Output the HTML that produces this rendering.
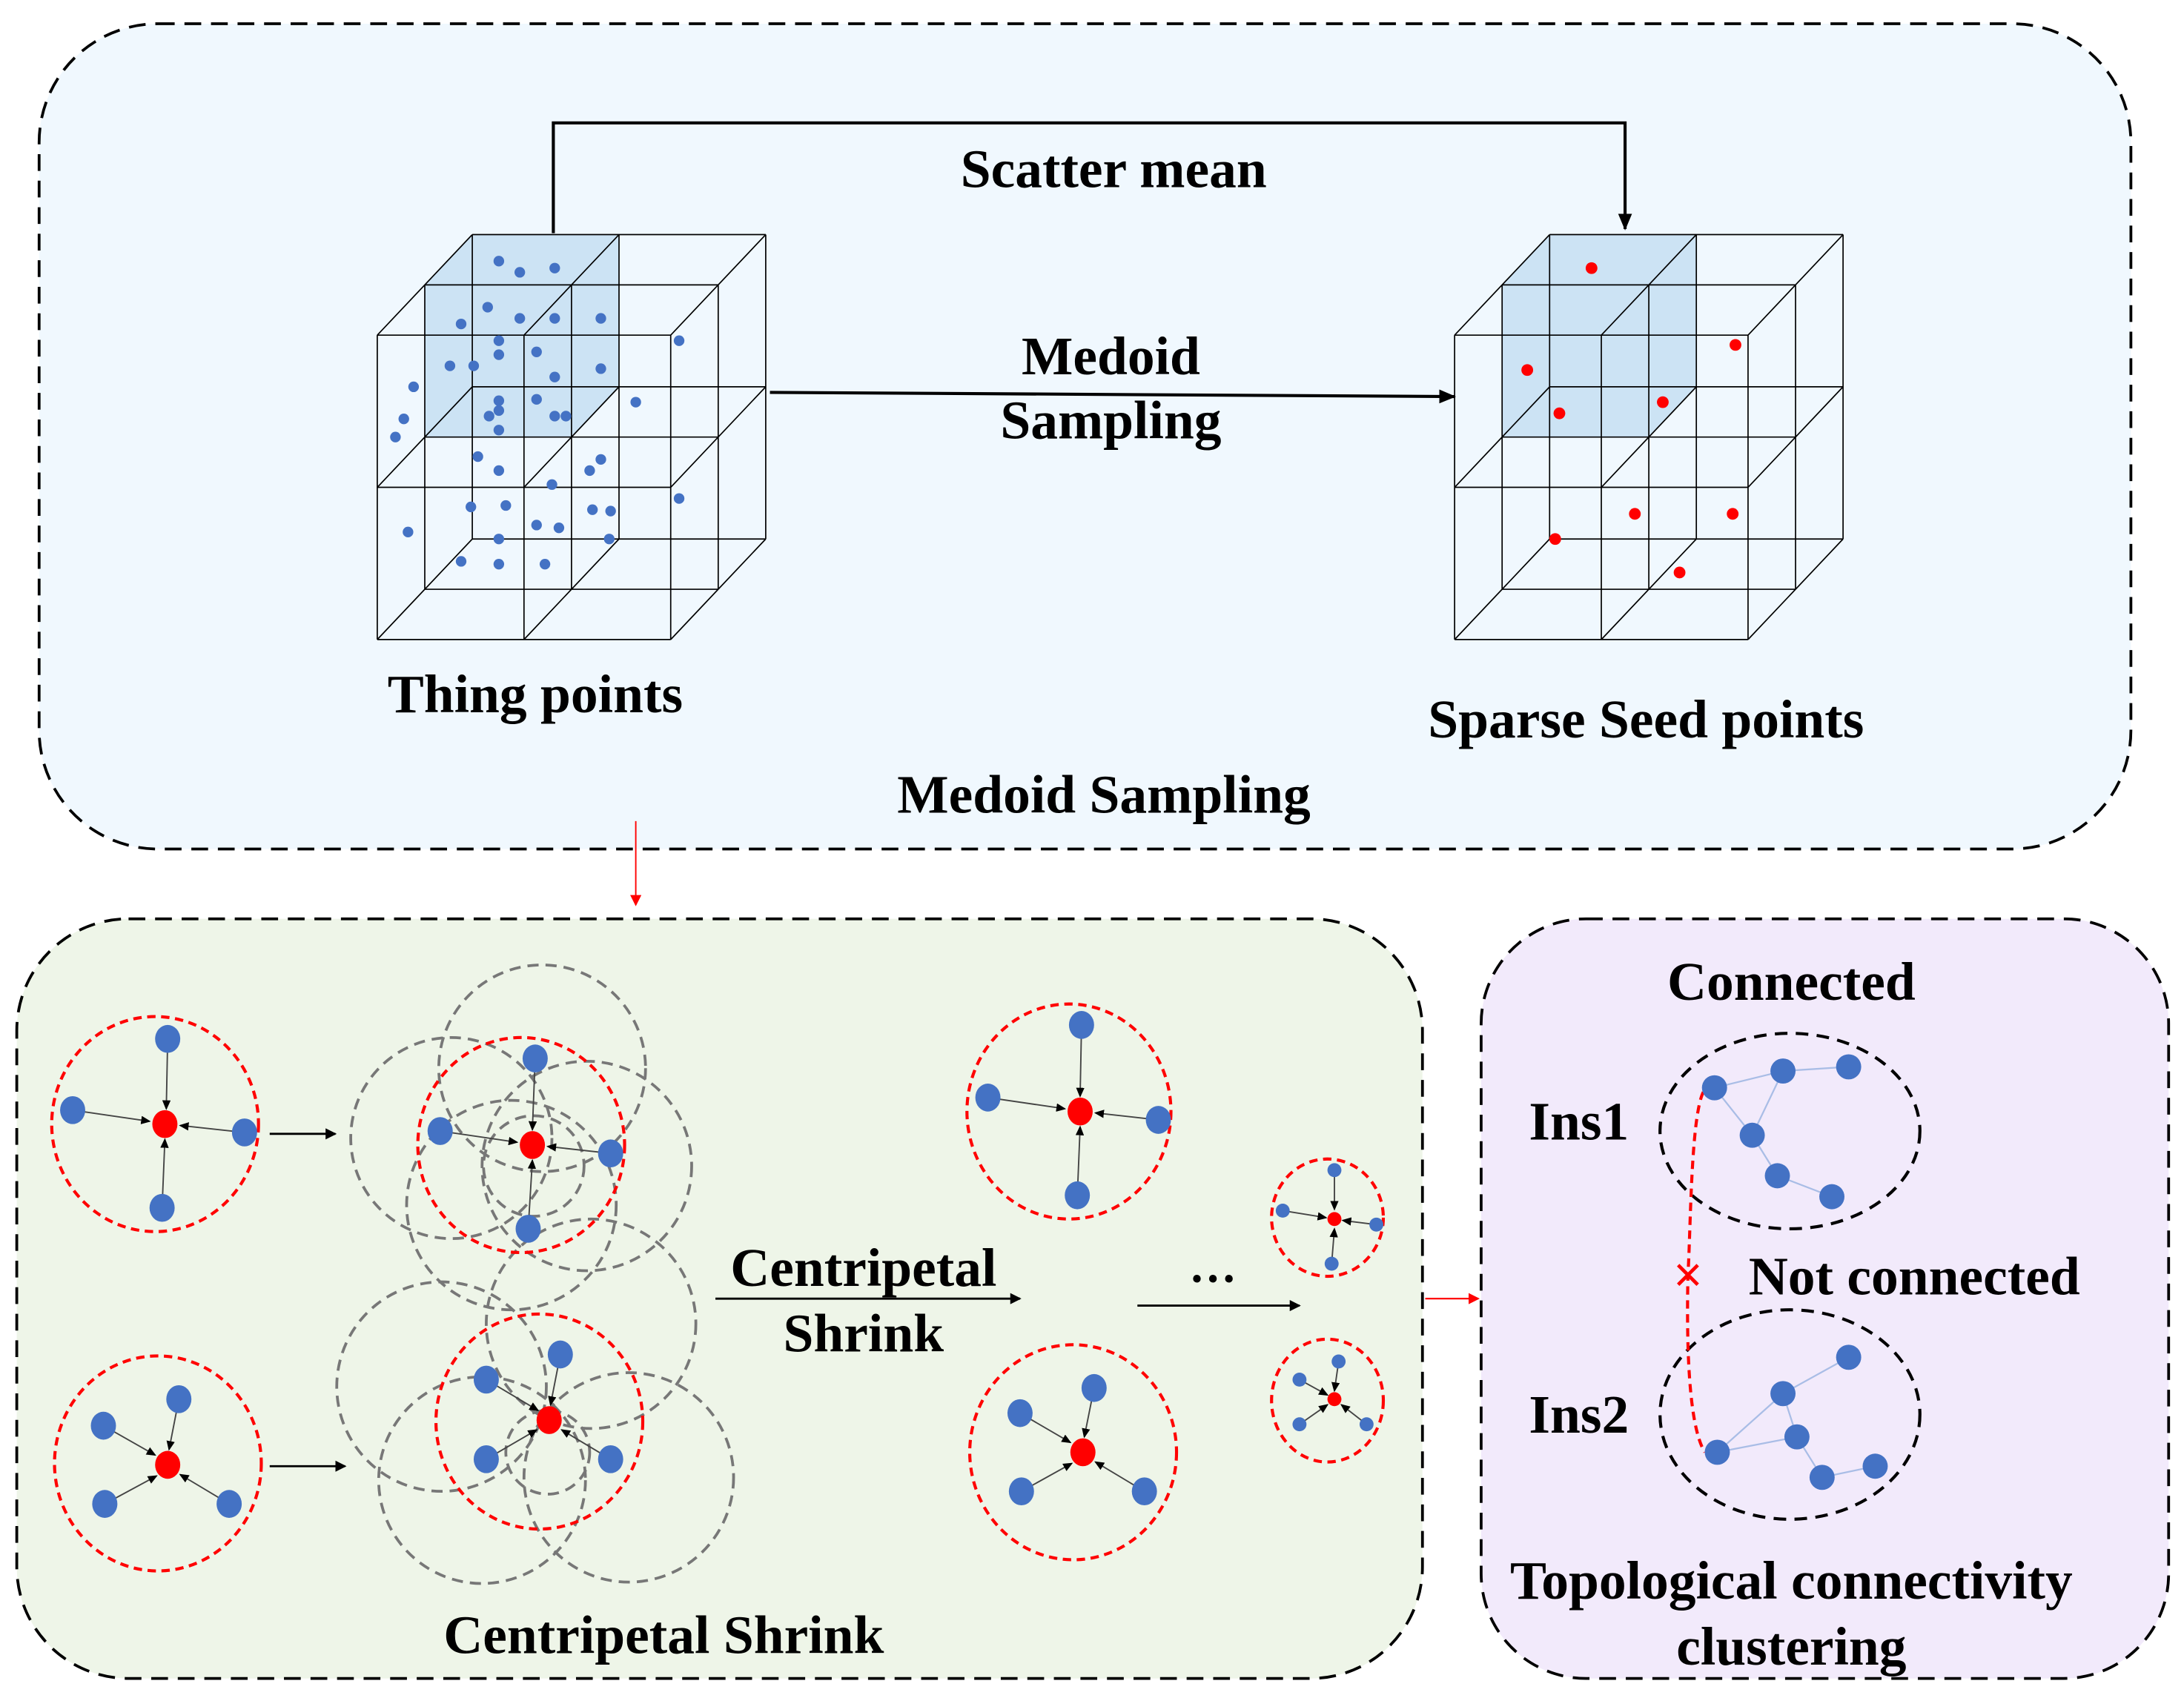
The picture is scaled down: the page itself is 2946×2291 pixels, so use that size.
<!DOCTYPE html>
<html><head><meta charset="utf-8"><style>
html,body{margin:0;padding:0;background:#fff;width:2946px;height:2291px;overflow:hidden}
svg{display:block}
text{font-family:"Liberation Serif",serif;font-weight:bold;fill:#000;text-anchor:middle}
</style></head><body>
<svg width="2946" height="2291" viewBox="0 0 1563 1216" preserveAspectRatio="none">
<defs>
<marker id="ab" markerWidth="8" markerHeight="8" refX="7" refY="4" orient="auto" markerUnits="userSpaceOnUse"><path d="M0,0 L8,4 L0,8 z" fill="#000"/></marker>
<marker id="as" markerWidth="7" markerHeight="6" refX="6" refY="3" orient="auto" markerUnits="userSpaceOnUse"><path d="M0,0 L7,3 L0,6 z" fill="#000"/></marker>
<marker id="ar" markerWidth="8" markerHeight="8" refX="7" refY="4" orient="auto" markerUnits="userSpaceOnUse"><path d="M0,0 L8,4 L0,8 z" fill="#f00"/></marker>
<marker id="big" markerWidth="12" markerHeight="10" refX="11" refY="5" orient="auto" markerUnits="userSpaceOnUse"><path d="M0,0 L12,5 L0,10 z" fill="#000"/></marker>
<g id="cube">
<polygon points="34,-36 68,-72 173,-72 173,37 139,73 34,73" fill="#a8cde9" fill-opacity="0.5"/>
<path fill="none" stroke="#000" stroke-width="0.9" d="M0 0H210M0 109H210M0 218H210M0 0V218M105 0V218M210 0V218
M34 -36H244M34 73H244M34 182H244M34 -36V182M139 -36V182M244 -36V182
M68 -72H278M68 37H278M68 146H278M68 -72V146M173 -72V146M278 -72V146
M0 0l68 -72M105 0l68 -72M210 0l68 -72M0 109l68 -72M105 109l68 -72M210 109l68 -72M0 218l68 -72M105 218l68 -72M210 218l68 -72"/>
</g>
</defs>

<rect x="28" y="17" width="1497" height="591" rx="85" fill="#f0f8fe" stroke="#000" stroke-width="2" stroke-dasharray="12,7"/>
<rect x="12" y="658" width="1006" height="544" rx="80" fill="#eef5e8" stroke="#000" stroke-width="2" stroke-dasharray="12,7"/>
<rect x="1060" y="658" width="492" height="544" rx="75" fill="#f2eafb" stroke="#000" stroke-width="2" stroke-dasharray="12,7"/>

<use href="#cube" transform="translate(270,240)"/>
<use href="#cube" transform="translate(1041,240)"/>

<g fill="#4472c4">
<circle cx="357" cy="187" r="3.8"/><circle cx="372" cy="195" r="3.8"/><circle cx="397" cy="192" r="3.8"/>
<circle cx="349" cy="220" r="3.8"/><circle cx="372" cy="228" r="3.8"/><circle cx="397" cy="228" r="3.8"/><circle cx="430" cy="228" r="3.8"/>
<circle cx="330" cy="232" r="3.8"/><circle cx="357" cy="244" r="3.8"/><circle cx="357" cy="254" r="3.8"/><circle cx="384" cy="252" r="3.8"/>
<circle cx="322" cy="262" r="3.8"/><circle cx="339" cy="262" r="3.8"/><circle cx="397" cy="270" r="3.8"/><circle cx="430" cy="264" r="3.8"/>
<circle cx="486" cy="244" r="3.8"/><circle cx="296" cy="277" r="3.8"/><circle cx="289" cy="300" r="3.8"/><circle cx="283" cy="313" r="3.8"/>
<circle cx="357" cy="287" r="3.8"/><circle cx="384" cy="286" r="3.8"/><circle cx="357" cy="294" r="3.8"/><circle cx="350" cy="298" r="3.8"/>
<circle cx="397" cy="298" r="3.8"/><circle cx="405" cy="298" r="3.8"/><circle cx="357" cy="308" r="3.8"/><circle cx="455" cy="288" r="3.8"/>
<circle cx="342" cy="327" r="3.8"/><circle cx="357" cy="337" r="3.8"/><circle cx="430" cy="329" r="3.8"/><circle cx="422" cy="337" r="3.8"/>
<circle cx="395" cy="347" r="3.8"/><circle cx="486" cy="357" r="3.8"/><circle cx="292" cy="381" r="3.8"/><circle cx="337" cy="363" r="3.8"/>
<circle cx="362" cy="362" r="3.8"/><circle cx="384" cy="376" r="3.8"/><circle cx="400" cy="378" r="3.8"/><circle cx="424" cy="365" r="3.8"/>
<circle cx="437" cy="366" r="3.8"/><circle cx="436" cy="386" r="3.8"/><circle cx="357" cy="386" r="3.8"/><circle cx="330" cy="402" r="3.8"/>
<circle cx="357" cy="404" r="3.8"/><circle cx="390" cy="404" r="3.8"/>
</g>
<g fill="#f00">
<circle cx="1139" cy="192" r="4.2"/><circle cx="1242" cy="247" r="4.2"/><circle cx="1093" cy="265" r="4.2"/>
<circle cx="1116" cy="296" r="4.2"/><circle cx="1190" cy="288" r="4.2"/><circle cx="1113" cy="386" r="4.2"/>
<circle cx="1170" cy="368" r="4.2"/><circle cx="1240" cy="368" r="4.2"/><circle cx="1202" cy="410" r="4.2"/>
</g>

<path d="M396 167V88H1163V164" fill="none" stroke="#000" stroke-width="2.2" marker-end="url(#big)"/>
<line x1="551" y1="281" x2="1041" y2="284" stroke="#000" stroke-width="2.2" marker-end="url(#big)"/>
<text x="797" y="134" font-size="39">Scatter mean</text>
<text x="795" y="268" font-size="39">Medoid</text>
<text x="795" y="314" font-size="39">Sampling</text>
<text x="383" y="510" font-size="39">Thing points</text>
<text x="1178" y="528" font-size="39">Sparse Seed points</text>
<text x="790" y="582" font-size="39">Medoid Sampling</text>
<line x1="455" y1="588" x2="455" y2="648" stroke="#f00" stroke-width="1" marker-end="url(#ar)"/>

<g fill="none" stroke="#777" stroke-width="2" stroke-dasharray="8,5">
<circle cx="388" cy="765" r="74"/><circle cx="323" cy="815" r="72"/><circle cx="420" cy="835" r="75"/><circle cx="366" cy="863" r="75"/><circle cx="382" cy="835" r="36"/>
<circle cx="316" cy="993" r="75"/><circle cx="423" cy="948" r="75"/><circle cx="345" cy="1060" r="74"/><circle cx="450" cy="1058" r="75"/><circle cx="392" cy="1040" r="30"/>
</g>
<g fill="none" stroke="#f00" stroke-width="2.2" stroke-dasharray="6,4">
<ellipse cx="111" cy="805" rx="74" ry="77"/><ellipse cx="373" cy="820" rx="74" ry="77"/>
<ellipse cx="113" cy="1048" rx="74" ry="77"/><ellipse cx="386" cy="1018" rx="74" ry="77"/>
<ellipse cx="765" cy="796" rx="73" ry="77"/><ellipse cx="768" cy="1040" rx="74" ry="77"/>
<ellipse cx="950" cy="872" rx="40" ry="42"/><ellipse cx="950" cy="1003" rx="40" ry="44"/>
</g>

<g stroke="#444" stroke-width="1" marker-end="url(#as)">
<line x1="120" y1="744" x2="119" y2="794"/><line x1="52" y1="795" x2="107" y2="803"/><line x1="175" y1="811" x2="129" y2="806"/><line x1="116" y1="865" x2="118" y2="816"/>
<line x1="383" y1="758" x2="381" y2="809"/><line x1="315" y1="810" x2="370" y2="818"/><line x1="437" y1="826" x2="392" y2="821"/><line x1="378" y1="880" x2="381" y2="831"/>
<line x1="128" y1="1002" x2="121" y2="1038"/><line x1="74" y1="1021" x2="111" y2="1042"/><line x1="75" y1="1077" x2="112" y2="1057"/><line x1="164" y1="1077" x2="129" y2="1056"/>
<line x1="401" y1="970" x2="394" y2="1006"/><line x1="348" y1="988" x2="385" y2="1010"/><line x1="348" y1="1045" x2="384" y2="1024"/><line x1="437" y1="1045" x2="402" y2="1024"/>
<line x1="774" y1="734" x2="773" y2="785"/><line x1="707" y1="786" x2="762" y2="794"/><line x1="829" y1="802" x2="784" y2="797"/><line x1="771" y1="856" x2="773" y2="807"/>
<line x1="783" y1="994" x2="776" y2="1029"/><line x1="730" y1="1012" x2="766" y2="1033"/><line x1="731" y1="1068" x2="767" y2="1048"/><line x1="819" y1="1068" x2="784" y2="1047"/>
<line x1="955" y1="838" x2="955" y2="866"/><line x1="918" y1="867" x2="949" y2="872"/><line x1="985" y1="877" x2="961" y2="874"/><line x1="953" y1="905" x2="955" y2="880"/>
<line x1="958" y1="975" x2="955" y2="996"/><line x1="930" y1="988" x2="950" y2="999"/><line x1="930" y1="1020" x2="950" y2="1006"/><line x1="978" y1="1020" x2="960" y2="1006"/>
</g>
<g fill="#4472c4">
<ellipse cx="120" cy="744" rx="9" ry="10"/><ellipse cx="52" cy="795" rx="9" ry="10"/><ellipse cx="175" cy="811" rx="9" ry="10"/><ellipse cx="116" cy="865" rx="9" ry="10"/>
<ellipse cx="383" cy="758" rx="9" ry="10"/><ellipse cx="315" cy="810" rx="9" ry="10"/><ellipse cx="437" cy="826" rx="9" ry="10"/><ellipse cx="378" cy="880" rx="9" ry="10"/>
<ellipse cx="128" cy="1002" rx="9" ry="10"/><ellipse cx="74" cy="1021" rx="9" ry="10"/><ellipse cx="75" cy="1077" rx="9" ry="10"/><ellipse cx="164" cy="1077" rx="9" ry="10"/>
<ellipse cx="401" cy="970" rx="9" ry="10"/><ellipse cx="348" cy="988" rx="9" ry="10"/><ellipse cx="348" cy="1045" rx="9" ry="10"/><ellipse cx="437" cy="1045" rx="9" ry="10"/>
<ellipse cx="774" cy="734" rx="9" ry="10"/><ellipse cx="707" cy="786" rx="9" ry="10"/><ellipse cx="829" cy="802" rx="9" ry="10"/><ellipse cx="771" cy="856" rx="9" ry="10"/>
<ellipse cx="783" cy="994" rx="9" ry="10"/><ellipse cx="730" cy="1012" rx="9" ry="10"/><ellipse cx="731" cy="1068" rx="9" ry="10"/><ellipse cx="819" cy="1068" rx="9" ry="10"/>
<circle cx="955" cy="838" r="5"/><circle cx="918" cy="867" r="5"/><circle cx="985" cy="877" r="5"/><circle cx="953" cy="905" r="5"/>
<circle cx="958" cy="975" r="5"/><circle cx="930" cy="988" r="5"/><circle cx="930" cy="1020" r="5"/><circle cx="978" cy="1020" r="5"/>
</g>
<g fill="#f00">
<ellipse cx="118" cy="805" rx="9" ry="10"/><ellipse cx="381" cy="820" rx="9" ry="10"/><ellipse cx="120" cy="1049" rx="9" ry="10"/><ellipse cx="393" cy="1017" rx="9" ry="10"/>
<ellipse cx="773" cy="796" rx="9" ry="10"/><ellipse cx="775" cy="1040" rx="9" ry="10"/><circle cx="955" cy="873" r="5"/><circle cx="955" cy="1002" r="5"/>
</g>

<line x1="193" y1="812" x2="240" y2="812" stroke="#000" stroke-width="1.5" marker-end="url(#ab)"/>
<line x1="193" y1="1050" x2="247" y2="1050" stroke="#000" stroke-width="1.5" marker-end="url(#ab)"/>
<line x1="512" y1="930" x2="730" y2="930" stroke="#000" stroke-width="1.5" marker-end="url(#ab)"/>
<line x1="814" y1="935" x2="930" y2="935" stroke="#000" stroke-width="1.5" marker-end="url(#ab)"/>
<text x="618" y="921" font-size="39">Centripetal</text>
<text x="618" y="968" font-size="39">Shrink</text>
<text x="868" y="918" font-size="34">…</text>
<text x="475" y="1184" font-size="39">Centripetal Shrink</text>
<line x1="1020" y1="930" x2="1058" y2="930" stroke="#f00" stroke-width="1.2" marker-end="url(#ar)"/>

<g fill="none" stroke="#000" stroke-width="2.2" stroke-dasharray="9,6">
<ellipse cx="1281" cy="810" rx="93" ry="70"/><ellipse cx="1281" cy="1013" rx="93" ry="75"/>
</g>
<g stroke="#a9bde6" stroke-width="1.2">
<line x1="1227" y1="779" x2="1276" y2="767"/><line x1="1276" y1="767" x2="1323" y2="764"/><line x1="1276" y1="767" x2="1254" y2="813"/>
<line x1="1254" y1="813" x2="1227" y2="779"/><line x1="1254" y1="813" x2="1272" y2="842"/><line x1="1272" y1="842" x2="1311" y2="857"/>
<line x1="1323" y1="972" x2="1276" y2="998"/><line x1="1276" y1="998" x2="1286" y2="1029"/><line x1="1276" y1="998" x2="1229" y2="1040"/>
<line x1="1229" y1="1040" x2="1286" y2="1029"/><line x1="1286" y1="1029" x2="1304" y2="1058"/><line x1="1304" y1="1058" x2="1342" y2="1050"/>
</g>
<path d="M1219 782 C1210 800 1210 880 1208 913 C1207 960 1208 1020 1220 1040" fill="none" stroke="#f00" stroke-width="2.2" stroke-dasharray="6,4"/>
<g fill="#4472c4">
<ellipse cx="1227" cy="779" rx="9" ry="9"/><ellipse cx="1276" cy="767" rx="9" ry="9"/><ellipse cx="1323" cy="764" rx="9" ry="9"/>
<ellipse cx="1254" cy="813" rx="9" ry="9"/><ellipse cx="1272" cy="842" rx="9" ry="9"/><ellipse cx="1311" cy="857" rx="9" ry="9"/>
<ellipse cx="1323" cy="972" rx="9" ry="9"/><ellipse cx="1276" cy="998" rx="9" ry="9"/><ellipse cx="1286" cy="1029" rx="9" ry="9"/>
<ellipse cx="1229" cy="1040" rx="9" ry="9"/><ellipse cx="1304" cy="1058" rx="9" ry="9"/><ellipse cx="1342" cy="1050" rx="9" ry="9"/>
</g>
<path d="M1201 906 L1215 920 M1215 906 L1201 920" stroke="#f00" stroke-width="2.5"/>
<text x="1282" y="716" font-size="39">Connected</text>
<text x="1130" y="816" font-size="39">Ins1</text>
<text x="1130" y="1026" font-size="39">Ins2</text>
<text x="1370" y="927" font-size="39">Not connected</text>
<text x="1282" y="1145" font-size="39">Topological connectivity</text>
<text x="1282" y="1192" font-size="39">clustering</text>
</svg>
</body></html>
